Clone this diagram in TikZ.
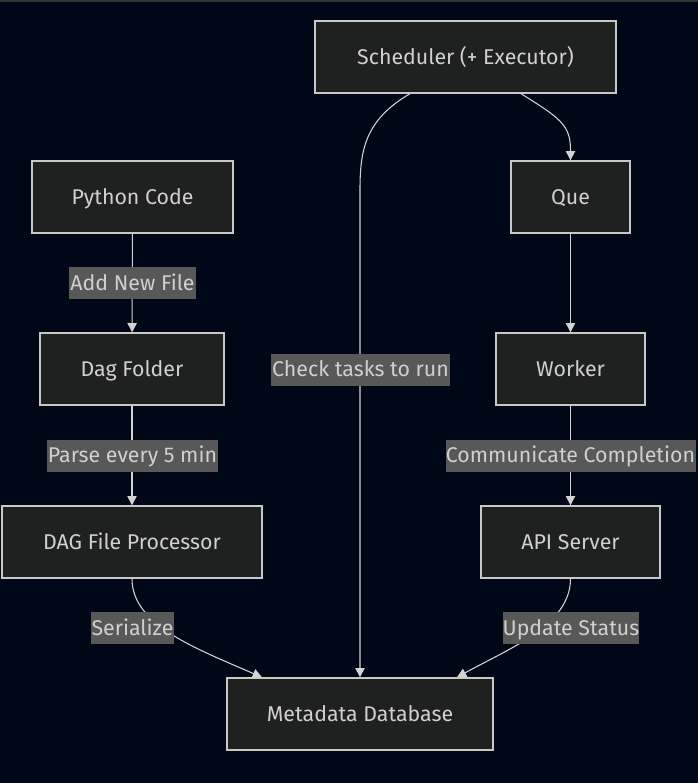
\documentclass[tikz,border=0pt]{standalone}
\usepackage{fontspec}
\setmainfont{Fira Sans}
\usetikzlibrary{arrows.meta}
\definecolor{bg}{HTML}{000716}
\definecolor{topband}{HTML}{333333}
\definecolor{boxfill}{HTML}{1F2020}
\definecolor{boxline}{HTML}{C8C8C8}
\definecolor{txt}{HTML}{D0D0D0}
\definecolor{lblbg}{HTML}{585858}
\definecolor{edge}{HTML}{D3D3D3}
\begin{document}
\begin{tikzpicture}[x=0.75pt,y=-0.75pt,
  box/.style={draw=boxline, fill=boxfill, text=txt, line width=1pt,
    minimum height=54pt, inner sep=0pt, text height=12pt, text depth=1.5pt,
    font=\fontsize{16}{19}\selectfont},
  lbl/.style={fill=lblbg, text=txt, inner sep=0pt, minimum height=24pt,
    text height=12pt, text depth=1.5pt, font=\fontsize{16}{19}\selectfont},
  conn/.style={draw=edge, line width=0.8pt, -{Triangle[length=7pt,width=7pt]}}]
\useasboundingbox (0,0) rectangle (698,783);
\fill[bg] (0,0) rectangle (698,783);
\fill[topband] (0,0) rectangle (698,2);
% nodes
\node[box, minimum width=225.75pt] (sched) at (465.5,57) {Scheduler (+ Executor)};
\node[box, minimum width=150.75pt] (py) at (132.5,197) {Python Code};
\node[box, minimum width=89.25pt] (que) at (570.5,197) {Que};
\node[box, minimum width=138pt] (dag) at (132,369) {Dag Folder};
\node[box, minimum width=111.75pt] (worker) at (570.5,369) {Worker};
\node[box, minimum width=195pt] (proc) at (132,542) {DAG File Processor};
\node[box, minimum width=134.25pt] (api) at (570.5,542) {API Server};
\node[box, minimum width=199.5pt] (meta) at (360,714) {Metadata Database};
% connectors
\draw[conn] (py) -- (dag);
\draw[conn] (dag) -- (proc);
\draw[conn] (que) -- (worker);
\draw[conn] (worker) -- (api);
\draw[conn] (sched.south -| 521,0) .. controls (560,118) and (570.5,125) .. (570.5,150) -- (que.north);
\coordinate (ck) at (360,190);
\draw[conn] (sched.south -| 410,0) .. controls (365,120) and (360,150) .. (ck) -- (meta.north);
\draw[conn] (proc.south) .. controls (132,625) and (195,648) .. (meta.north -| 262,0);
\draw[conn] (api.south) .. controls (570.5,625) and (510,648) .. (meta.north -| 457,0);
% edge labels
\node[lbl, minimum width=95.25pt] (l1) at (132.5,283) {Add New File};
\node[lbl, minimum width=128.25pt] (l2) at (132.5,455.5) {Parse every 5 min};
\node[lbl, minimum width=62.25pt] (l3) at (132.5,628) {Serialize};
\node[lbl, minimum width=134.25pt] (l4) at (360.5,369.5) {Check tasks to run};
\node[lbl, minimum width=187.5pt] (l5) at (570.5,455.5) {Communicate Completion};
\node[lbl, minimum width=102pt] (l6) at (571,628) {Update Status};
\end{tikzpicture}
\end{document}
